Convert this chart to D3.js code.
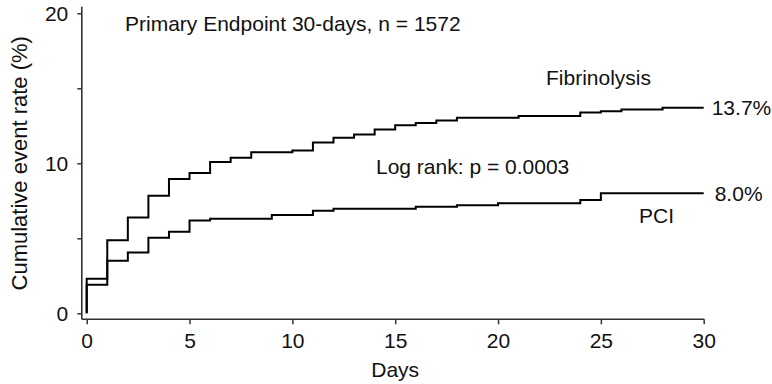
<!DOCTYPE html>
<html>
<head>
<meta charset="utf-8">
<script src="https://cdn.jsdelivr.net/npm/d3@7/dist/d3.min.js"></script>
<style>
  html, body { margin: 0; padding: 0; background: #fff; }
  svg { display: block; }
  text { font-family: "Liberation Sans", Arial, Helvetica, sans-serif; fill: #111; }
</style>
</head>
<body>
<svg id="chart" width="772" height="384"></svg>
<script>
// Kaplan–Meier style cumulative event curves (step after each event day)
const fibDays  = [0, 0,   1,    2,    3,    4,    5,    6,     7,     8,     10,    11,    12,   13,    14,    15,    16,    17,    18,    21,    24,    25,    26,    28,   30];
const fibRates = [0, 2.3, 4.87, 6.38, 7.83, 8.96, 9.35, 10.08, 10.37, 10.73, 10.86, 11.38, 11.7, 11.92, 12.25, 12.53, 12.68, 12.86, 13.04, 13.16, 13.38, 13.47, 13.58, 13.7, 13.7];

const pciDays  = [0, 0,   1,   2,    3,    4,    5,    6,   9,    11,   12,   16,  18,   20,   24,   25,  30];
const pciRates = [0, 1.9, 3.5, 4.05, 5.04, 5.44, 6.18, 6.3, 6.55, 6.83, 6.97, 7.1, 7.21, 7.33, 7.55, 8.0, 8.0];

const xTicks = [0, 5, 10, 15, 20, 25, 30];
const yTicks = [0, 5, 10, 15, 20];
const yTickLabels = { 0: "0", 10: "10", 20: "20" };

const svg = d3.select("#chart");
const fontSize = 21;

const x = d3.scaleLinear().domain([0, 30]).range([86.7, 703.7]);
const y = d3.scaleLinear().domain([0, 20]).range([313.3, 13.3]);

const axisColor = "#333";
const xAxisY = 319.3;
const yAxisX = 81.8;

// Axis frame lines
svg.append("line")
  .attr("x1", yAxisX).attr("x2", yAxisX)
  .attr("y1", y(20) - 6.5).attr("y2", xAxisY)
  .attr("stroke", axisColor).attr("stroke-width", 1.6);
svg.append("line")
  .attr("x1", yAxisX).attr("x2", x(30) + 0.6)
  .attr("y1", xAxisY).attr("y2", xAxisY)
  .attr("stroke", axisColor).attr("stroke-width", 1.6);

// Y axis ticks and labels
const gy = svg.append("g")
  .attr("transform", `translate(${yAxisX},0)`)
  .call(d3.axisLeft(y).tickValues(yTicks).tickSize(4.5).tickPadding(9)
    .tickFormat(d => yTickLabels[d] || ""));
gy.select(".domain").remove();
gy.selectAll(".tick line").attr("stroke", axisColor).attr("stroke-width", 1.5);
gy.selectAll(".tick text")
  .attr("font-size", fontSize)
  .attr("font-family", "Liberation Sans, Arial, sans-serif")
  .attr("fill", "#111");

// X axis ticks and labels
const gx = svg.append("g")
  .attr("transform", `translate(0,${xAxisY})`)
  .call(d3.axisBottom(x).tickValues(xTicks).tickSize(5).tickPadding(9)
    .tickFormat(d3.format("d")));
gx.select(".domain").remove();
gx.selectAll(".tick line").attr("stroke", axisColor).attr("stroke-width", 1.5);
gx.selectAll(".tick text")
  .attr("font-size", fontSize)
  .attr("font-family", "Liberation Sans, Arial, sans-serif")
  .attr("fill", "#111");

// Axis titles
svg.append("text")
  .attr("x", (x(0) + x(30)) / 2)
  .attr("y", 377)
  .attr("text-anchor", "middle")
  .attr("font-size", fontSize)
  .text("Days");

svg.append("text")
  .attr("transform", `translate(27,${(y(0) + y(20)) / 2}) rotate(-90)`)
  .attr("text-anchor", "middle")
  .attr("font-size", 22)
  .text("Cumulative event rate (%)");

// Step curves
const stepLine = d3.line()
  .x(d => x(d[0]))
  .y(d => y(d[1]))
  .curve(d3.curveStepAfter);

const fibPoints = fibDays.map((d, i) => [d, fibRates[i]]);
const pciPoints = pciDays.map((d, i) => [d, pciRates[i]]);

svg.append("path")
  .datum(pciPoints)
  .attr("d", stepLine)
  .attr("fill", "none")
  .attr("stroke", "#000")
  .attr("stroke-width", 2);

svg.append("path")
  .datum(fibPoints)
  .attr("d", stepLine)
  .attr("fill", "none")
  .attr("stroke", "#000")
  .attr("stroke-width", 2);

// Annotations
svg.append("text")
  .attr("x", 125).attr("y", 31)
  .attr("font-size", fontSize)
  .text("Primary Endpoint 30-days, n = 1572");

svg.append("text")
  .attr("x", 546).attr("y", 85)
  .attr("font-size", fontSize)
  .text("Fibrinolysis");

svg.append("text")
  .attr("x", 376).attr("y", 173.5)
  .attr("font-size", fontSize)
  .text("Log rank: p = 0.0003");

svg.append("text")
  .attr("x", 639).attr("y", 222.5)
  .attr("font-size", fontSize)
  .text("PCI");

const lastFib = fibRates[fibRates.length - 1];
const lastPci = pciRates[pciRates.length - 1];

svg.append("text")
  .attr("x", x(30) + 8).attr("y", y(lastFib))
  .attr("dy", "0.35em")
  .attr("font-size", fontSize)
  .text(d3.format(".1f")(lastFib) + "%");

svg.append("text")
  .attr("x", x(30) + 11).attr("y", y(lastPci))
  .attr("dy", "0.35em")
  .attr("font-size", fontSize)
  .text(d3.format(".1f")(lastPci) + "%");
</script>
</body>
</html>
